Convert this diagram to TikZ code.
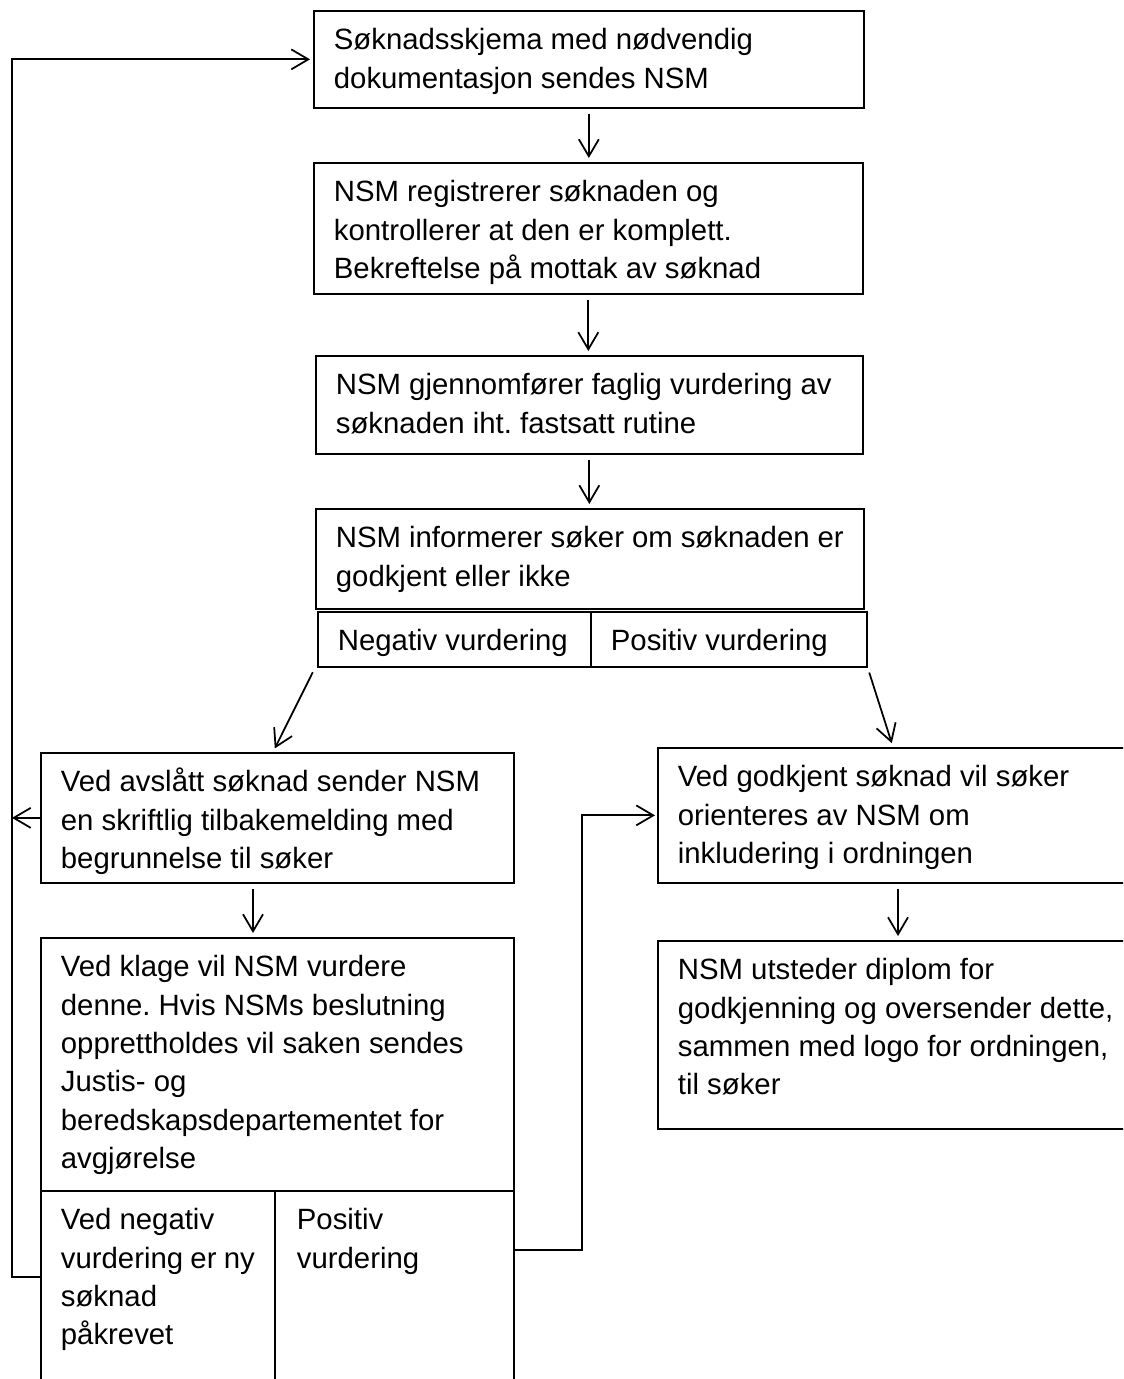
\documentclass[tikz,border=0pt]{standalone}
\usepackage{fontspec}
\setmainfont{Liberation Sans}
\usetikzlibrary{arrows.meta,calc}
\frenchspacing
\hyphenpenalty=10000

\begin{document}
\begin{tikzpicture}[
  x=0.02cm, y=-0.02cm,
  font=\fontsize{16.7}{21.8}\selectfont,
  line width=1pt,
  >={Straight Barb[length=0.34cm,width=0.4cm]},
  stepbox/.style={draw, anchor=north west, align=flush left, inner xsep=0.4cm, inner ysep=0pt, text height=0.78cm},
  arr/.style={->, shorten <=0.1cm, shorten >=0.08cm}
]
\clip (0,0) rectangle (1123,1379);
\node[stepbox, text width=10.2cm, text depth=1.16cm] (b1) at (313,10) {Søknadsskjema med nødvendig\\dokumentasjon sendes NSM};
\node[stepbox, text width=10.18cm, text depth=1.84cm] (b2) at (313,162) {NSM registrerer søknaden og\\kontrollerer at den er komplett.\\Bekreftelse på mottak av søknad};
\node[stepbox, text width=10.14cm, text depth=1.18cm] (b3) at (315,355) {NSM gjennomfører faglig vurdering av\\søknaden iht. fastsatt rutine};
\node[stepbox, text width=10.16cm, text depth=1.22cm] (b4) at (315,508) {NSM informerer søker om søknaden~er\\godkjent eller ikke};
\node[stepbox, text width=4.66cm, text depth=0.32cm] (neg) at (317,611) {Negativ vurdering};
\node[stepbox, text width=4.72cm, text depth=0.32cm] (pos) at (590,611) {Positiv vurdering};
\node[stepbox, text width=8.66cm, text depth=1.82cm] (b5) at (40,752) {Ved avslått søknad sender NSM\\en skriftlig tilbakemelding med\\begrunnelse til søker};
\node[stepbox, text width=8.66cm, text depth=4.28cm] (b6) at (40,937) {Ved klage vil NSM vurdere\\denne. Hvis NSMs beslutning\\opprettholdes vil saken sendes\\Justis- og\\beredskapsdepartementet for\\avgjørelse};
\node[stepbox, text width=3.88cm, text depth=3.82cm] (sneg) at (40,1190) {Ved negativ\\vurdering er~ny\\søknad\\påkrevet};
\node[stepbox, text width=3.9cm, text depth=3.82cm, inner xsep=0.44cm] (spos) at (274,1190) {Positiv\\vurdering};
\node[stepbox, text width=9.66cm, text depth=1.92cm] (b7) at (657,747) {Ved godkjent søknad vil søker\\orienteres av NSM om\\inkludering i ordningen};
\node[stepbox, text width=9.66cm, text depth=2.98cm] (b8) at (657,940) {NSM utsteder diplom for\\godkjenning og oversender dette,\\sammen med logo for ordningen,\\til søker};
\coordinate (back) at (12,700);
\coordinate (fwd) at (582,1000);
\draw[arr] (b1.south) -- (b1.south |- b2.north);
\draw[arr] (b2.south) -- (b2.south |- b3.north);
\draw[arr] (b3.south) -- (b3.south |- b4.north);
\draw[arr] ($(neg.south west)+(-2,0)$) -- ($(b5.north west)+(233,0)$);
\draw[arr] (pos.south east) -- ($(b7.north west)+(236,0)$);
\draw[arr] ($(b5.south west)+(213,0)$) -- ($(b6.north west)+(213,0)$);
\draw[arr] ($(b7.south west)+(241,0)$) -- ($(b8.north west)+(241,0)$);
\draw[->, shorten >=0.06cm] ($(sneg.north west)+(0,87)$) -| (back) |- (b1.west);
\draw[->] (b5.west) -- (b5.west -| back);
\draw[->, shorten >=0.04cm] ($(spos.north east)+(0,60)$) -| (fwd) |- (b7.west);
\end{tikzpicture}
\end{document}
